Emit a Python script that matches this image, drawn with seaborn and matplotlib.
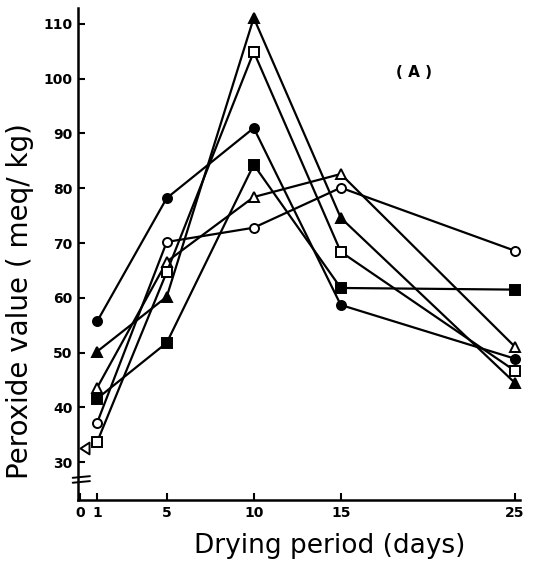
import matplotlib
matplotlib.use("Agg")
import matplotlib.pyplot as plt
from matplotlib.path import Path
import numpy as np
import pandas as pd
import seaborn as sns

# ---- data ----
days = [1, 5, 10, 15, 25]
filled_circle = [55.7, 78.2, 91.0, 58.7, 48.9]
open_circle = [37.2, 70.2, 72.8, 80.1, 68.6]
filled_triangle = [50.2, 60.2, 111.1, 74.6, 44.5]
open_triangle = [43.6, 66.6, 78.4, 82.6, 51.1]
filled_square = [41.6, 51.8, 84.3, 61.8, 61.5]
open_square = [33.7, 64.7, 104.9, 68.4, 46.7]
initial_day = [0]
initial_value = [32.5]

x_ticks = [0, 1, 5, 10, 15, 25]
y_ticks = [30, 40, 50, 60, 70, 80, 90, 100, 110]

series = [
    ("filled_circle", filled_circle, "o", True),
    ("open_circle", open_circle, "o", False),
    ("filled_triangle", filled_triangle, "^", True),
    ("open_triangle", open_triangle, "^", False),
    ("filled_square", filled_square, "s", True),
    ("open_square", open_square, "s", False),
]

sns.set_theme(style="white")
plt.rcParams["font.family"] = ["DejaVu Sans"]

fig = plt.figure(figsize=(5.48, 5.64), dpi=100)
ax = fig.add_axes([78 / 548, 1 - 500 / 564, 442 / 548, 492 / 564])

for name, vals, mk, filled in series:
    df = pd.DataFrame({"day": days, "value": vals})
    sns.lineplot(data=df, x="day", y="value", ax=ax, color="black",
                 linewidth=1.6, marker=mk, markersize=6.5 if mk != "^" else 7.5,
                 markerfacecolor="black" if filled else "white",
                 markeredgecolor="black", markeredgewidth=1.4,
                 clip_on=False, zorder=3)

# day-0 starting value: left-pointing open triangle with vertex on the axis
tri = Path([(0, 0), (1, 0.65), (1, -0.65), (0, 0)],
           [Path.MOVETO, Path.LINETO, Path.LINETO, Path.CLOSEPOLY])
ax.plot(initial_day, initial_value, linestyle="none", marker=tri,
        markersize=13, markerfacecolor="white", markeredgecolor="black",
        markeredgewidth=1.4, clip_on=False, zorder=4)

ax.set_xticks(x_ticks)
ax.set_yticks(y_ticks)
ax.set_xticklabels([str(t) for t in x_ticks], fontsize=10, fontweight="bold")
ax.set_yticklabels([str(t) for t in y_ticks], fontsize=10, fontweight="bold")
ax.set_xlim(-0.1, 25.3)
ax.set_ylim(23.1, 112.9)
ax.tick_params(axis="both", direction="in", length=5, width=1.5,
               colors="black", pad=4, bottom=True, left=True)

for s in ["top", "right"]:
    ax.spines[s].set_visible(False)
for s in ["left", "bottom"]:
    ax.spines[s].set_color("black")
    ax.spines[s].set_linewidth(1.8)

# axis break marks on the y axis
tr = ax.get_yaxis_transform()
for yb in (26.4, 27.3):
    ax.plot([-0.012, 0.027], [yb - 0.15, yb + 0.15], color="black",
            linewidth=1.4, transform=tr, clip_on=False)

ax.set_xlabel("Drying period (days)", fontsize=19, color="black")
ax.set_ylabel("Peroxide value ( meq/ kg)", fontsize=20, color="black")
ax.xaxis.set_label_coords(0.57, -0.068)
ax.yaxis.set_label_coords(-0.1, 0.405)

ax.text(19.2, 101.2, "( A )", fontsize=11, fontweight="bold",
        ha="center", va="center", color="black")

fig.savefig("out.png", dpi=100, facecolor="white")
